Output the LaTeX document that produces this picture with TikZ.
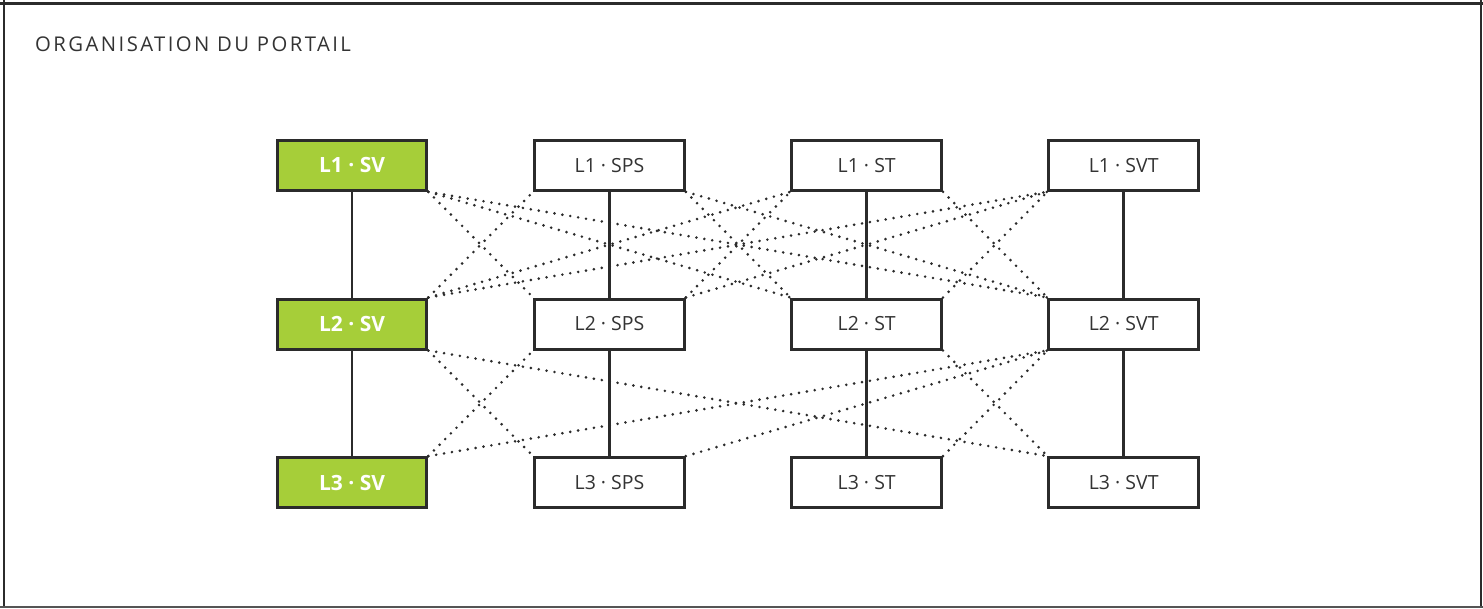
\documentclass[tikz,border=0pt]{standalone}
\usepackage{fontspec}
\setmainfont{Open Sans}
\newfontfamily\titlefont[LetterSpace=12]{Open Sans}
\definecolor{ink}{HTML}{2B2B2B}
\definecolor{txt}{HTML}{333333}
\definecolor{leaf}{HTML}{A6CE39}
\definecolor{edge}{HTML}{555555}
\begin{document}
\begin{tikzpicture}[x=1pt,y=-1pt,
  box/.style={draw=ink, line width=3pt, minimum width=149.6pt, minimum height=50pt,
    inner sep=0pt, fill=white, text=txt, font=\fontsize{19.5}{22}\selectfont},
  svbox/.style={box, fill=leaf, text=white, font=\fontsize{21}{24}\selectfont\bfseries},
  solidlink/.style={draw=ink, line width=2.5pt},
  dotlink/.style={draw=ink, line width=2.9pt, line cap=round, dash pattern=on 0pt off 8pt},
  titletext/.style={anchor=base west, inner sep=0pt, text=txt, font=\fontsize{20.3}{24}\titlefont}
]
\useasboundingbox (0,0) rectangle (1483,608);
% frame
\draw[draw=ink, line width=2.5pt] (0,3.6) -- (1483,3.6);
\draw[draw=ink, line width=2.5pt] (4,0) -- (4,608);
\draw[draw=ink, line width=1.5pt] (1481.2,0) -- (1481.2,608);
\draw[draw=edge, line width=1.4pt] (0,606.8) -- (1483,606.8);
% title
\node[titletext] (title) at (35,51) {ORGANISATION DU PORTAIL};
% nodes
\node[svbox] (n11) at (352,165.3) {L1 · SV};
\node[svbox] (n21) at (352,324) {L2 · SV};
\node[svbox] (n31) at (352,482.6) {L3 · SV};
\node[box] (n12) at (609.5,165.3) {L1 · SPS};
\node[box] (n22) at (609.5,324) {L2 · SPS};
\node[box] (n32) at (609.5,482.6) {L3 · SPS};
\node[box] (n13) at (866.7,165.3) {L1 · ST};
\node[box] (n23) at (866.7,324) {L2 · ST};
\node[box] (n33) at (866.7,482.6) {L3 · ST};
\node[box] (n14) at (1123.7,165.3) {L1 · SVT};
\node[box] (n24) at (1123.7,324) {L2 · SVT};
\node[box] (n34) at (1123.7,482.6) {L3 · SVT};
% vertical links
\foreach \c in {1,2,3,4}{
  \draw[solidlink] (n1\c.south) -- (n2\c.north);
  \draw[solidlink] (n2\c.south) -- (n3\c.north);
}
% dotted links between rows 1 and 2
\foreach \i/\j in {1/2,1/3,1/4,2/3,2/4,3/4}{
  \draw[dotlink] (n1\i.south east) -- (n2\j.north west);
  \draw[dotlink] (n2\i.north east) -- (n1\j.south west);
}
% dotted links between rows 2 and 3
\draw[dotlink] (n21.south east) -- (n32.north west);
\draw[dotlink] (n31.north east) -- (n22.south west);
\draw[dotlink] (n21.south east) -- (n34.north west);
\draw[dotlink] (n31.north east) -- (n24.south west);
\draw[dotlink] (n32.north east) -- (n24.south west);
\draw[dotlink] (n23.south east) -- (n34.north west);
\draw[dotlink] (n33.north east) -- (n24.south west);
\end{tikzpicture}
\end{document}
